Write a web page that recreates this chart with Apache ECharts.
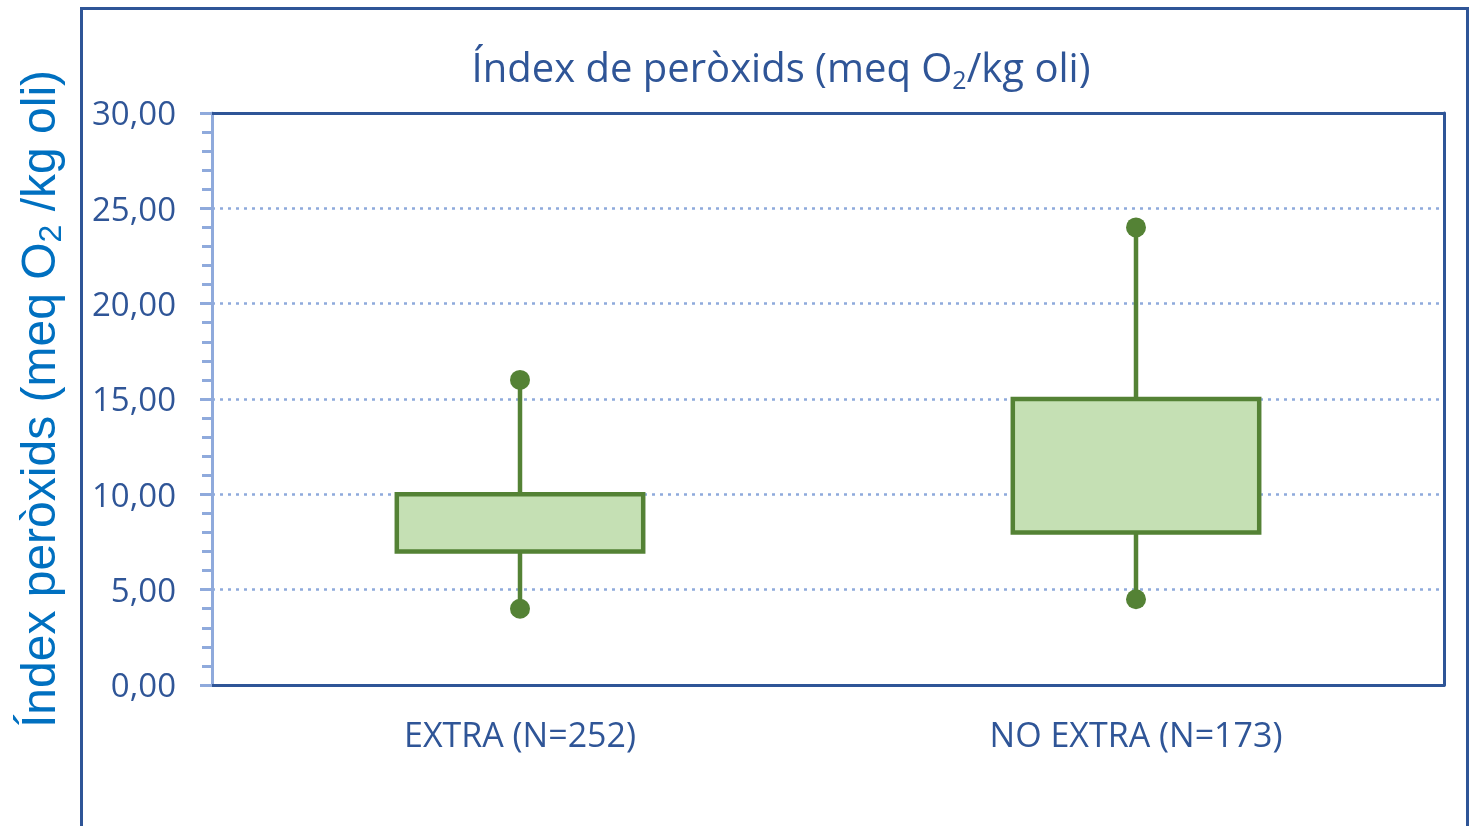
<!DOCTYPE html>
<html>
<head>
<meta charset="utf-8">
<script src="https://cdn.jsdelivr.net/npm/echarts@6/dist/echarts.min.js"></script>
<style>
html,body{margin:0;padding:0;background:#fff;}
#chart{width:1470px;height:826px;}
</style>
</head>
<body>
<div id="chart"></div>
<script>
// ---- data ----
const categories = ['EXTRA (N=252)', 'NO EXTRA (N=173)'];
const minValues = [4, 4.5];
const q1Values = [7, 8];
const q3Values = [10, 15];
const maxValues = [16, 24];
const yTicks = [0, 5, 10, 15, 20, 25, 30];

const seriesData = categories.map((c, i) => [i, minValues[i], q1Values[i], q3Values[i], maxValues[i]]);

const darkBlue = '#2F5597';
const lightBlue = '#8FAADC';
const textBlue = '#2F5597';
const green = '#548235';
const fillGreen = '#C5E0B4';

const chart = echarts.init(document.getElementById('chart'), null, {renderer: 'canvas'});

function renderItem(params, api) {
  const idx = api.value(0);
  const pLow = api.coord([idx, api.value(1)]);
  const pQ1 = api.coord([idx, api.value(2)]);
  const pQ3 = api.coord([idx, api.value(3)]);
  const pHigh = api.coord([idx, api.value(4)]);
  const w = api.size([1, 0])[0] * 0.4;
  const x = pQ1[0];
  const lineStyle = {stroke: green, lineWidth: 4.5};
  return {
    type: 'group',
    children: [
      {type: 'line', shape: {x1: x, y1: pHigh[1], x2: x, y2: pQ3[1]}, style: lineStyle},
      {type: 'line', shape: {x1: x, y1: pQ1[1], x2: x, y2: pLow[1]}, style: lineStyle},
      {type: 'rect', shape: {x: x - w / 2, y: pQ3[1], width: w, height: pQ1[1] - pQ3[1]},
        style: {fill: fillGreen, stroke: green, lineWidth: 4.5}},
      {type: 'circle', shape: {cx: x, cy: pHigh[1], r: 10}, style: {fill: green}},
      {type: 'circle', shape: {cx: x, cy: pLow[1], r: 10}, style: {fill: green}}
    ]
  };
}

const option = {
  backgroundColor: '#fff',
  animation: false,
  title: {
    text: '{a|Índex de peròxids (meq O}{s|2}{a|/kg oli)}',
    left: 776,
    textAlign: 'center',
    top: 40,
    textStyle: {
      rich: {
        a: {fontFamily: 'Open Sans', fontSize: 40, fontWeight: 'normal', color: textBlue, lineHeight: 52},
        s: {fontFamily: 'Open Sans', fontSize: 25, fontWeight: 'normal', color: textBlue, lineHeight: 52, padding: [22, 0, 0, 0]}
      }
    }
  },
  graphic: [{
    type: 'rect',
    z: -10,
    shape: {x: 81.5, y: 8.5, width: 1386, height: 900},
    style: {fill: 'none', stroke: darkBlue, lineWidth: 3}
  }],
  grid: {left: 212, right: 26, top: 113, bottom: 141, outerBoundsMode: 'none', containLabel: false},
  xAxis: [{
    type: 'category',
    data: categories,
    axisLine: {onZero: false, lineStyle: {color: darkBlue, width: 3}},
    axisTick: {show: false},
    axisLabel: {color: textBlue, fontFamily: 'Open Sans', fontSize: 34, margin: 35}
  }, {
    type: 'category',
    position: 'top',
    data: categories,
    axisLine: {show: true, onZero: false, lineStyle: {color: darkBlue, width: 3}},
    axisTick: {show: false},
    axisLabel: {show: false}
  }],
  yAxis: [{
    type: 'value',
    min: yTicks[0],
    max: yTicks[yTicks.length - 1],
    interval: 5,
    axisLine: {show: true, onZero: false, lineStyle: {color: lightBlue, width: 3}},
    axisTick: {show: true, length: 12, lineStyle: {color: lightBlue, width: 3}},
    minorTick: {show: true, splitNumber: 5, length: 10, lineStyle: {color: lightBlue, width: 3}},
    splitLine: {show: true, lineStyle: {color: lightBlue, width: 2.5, type: [3, 5]}},
    axisLabel: {
      color: textBlue, fontFamily: 'Open Sans', fontSize: 33, margin: 36,
      formatter: v => '{v|' + v.toFixed(2).replace('.', ',') + '}',
      rich: {v: {fontFamily: 'Open Sans', fontSize: 33, color: textBlue, padding: [6, 0, 0, 0]}}
    },
    name: '{a|Índex peròxids (meq O}{s|2}{a| /kg oli)}',
    nameLocation: 'middle',
    nameRotate: 90,
    nameGap: 142,
    nameMoveOverlap: false,
    nameTextStyle: {
      rich: {
        a: {fontFamily: 'Liberation Sans', fontSize: 48, color: '#0070C0', lineHeight: 56},
        s: {fontFamily: 'Liberation Sans', fontSize: 32, color: '#0070C0', lineHeight: 56, padding: [20, 0, 0, 0]}
      }
    }
  }, {
    type: 'value',
    position: 'right',
    min: 0, max: 30, interval: 5,
    axisLine: {show: true, onZero: false, lineStyle: {color: darkBlue, width: 3}},
    axisTick: {show: false},
    axisLabel: {show: false},
    splitLine: {show: false}
  }],
  series: [{
    type: 'custom',
    renderItem: renderItem,
    data: seriesData,
    encode: {x: 0, y: [1, 2, 3, 4]},
    z: 5
  }]
};
chart.setOption(option);
</script>
</body>
</html>
